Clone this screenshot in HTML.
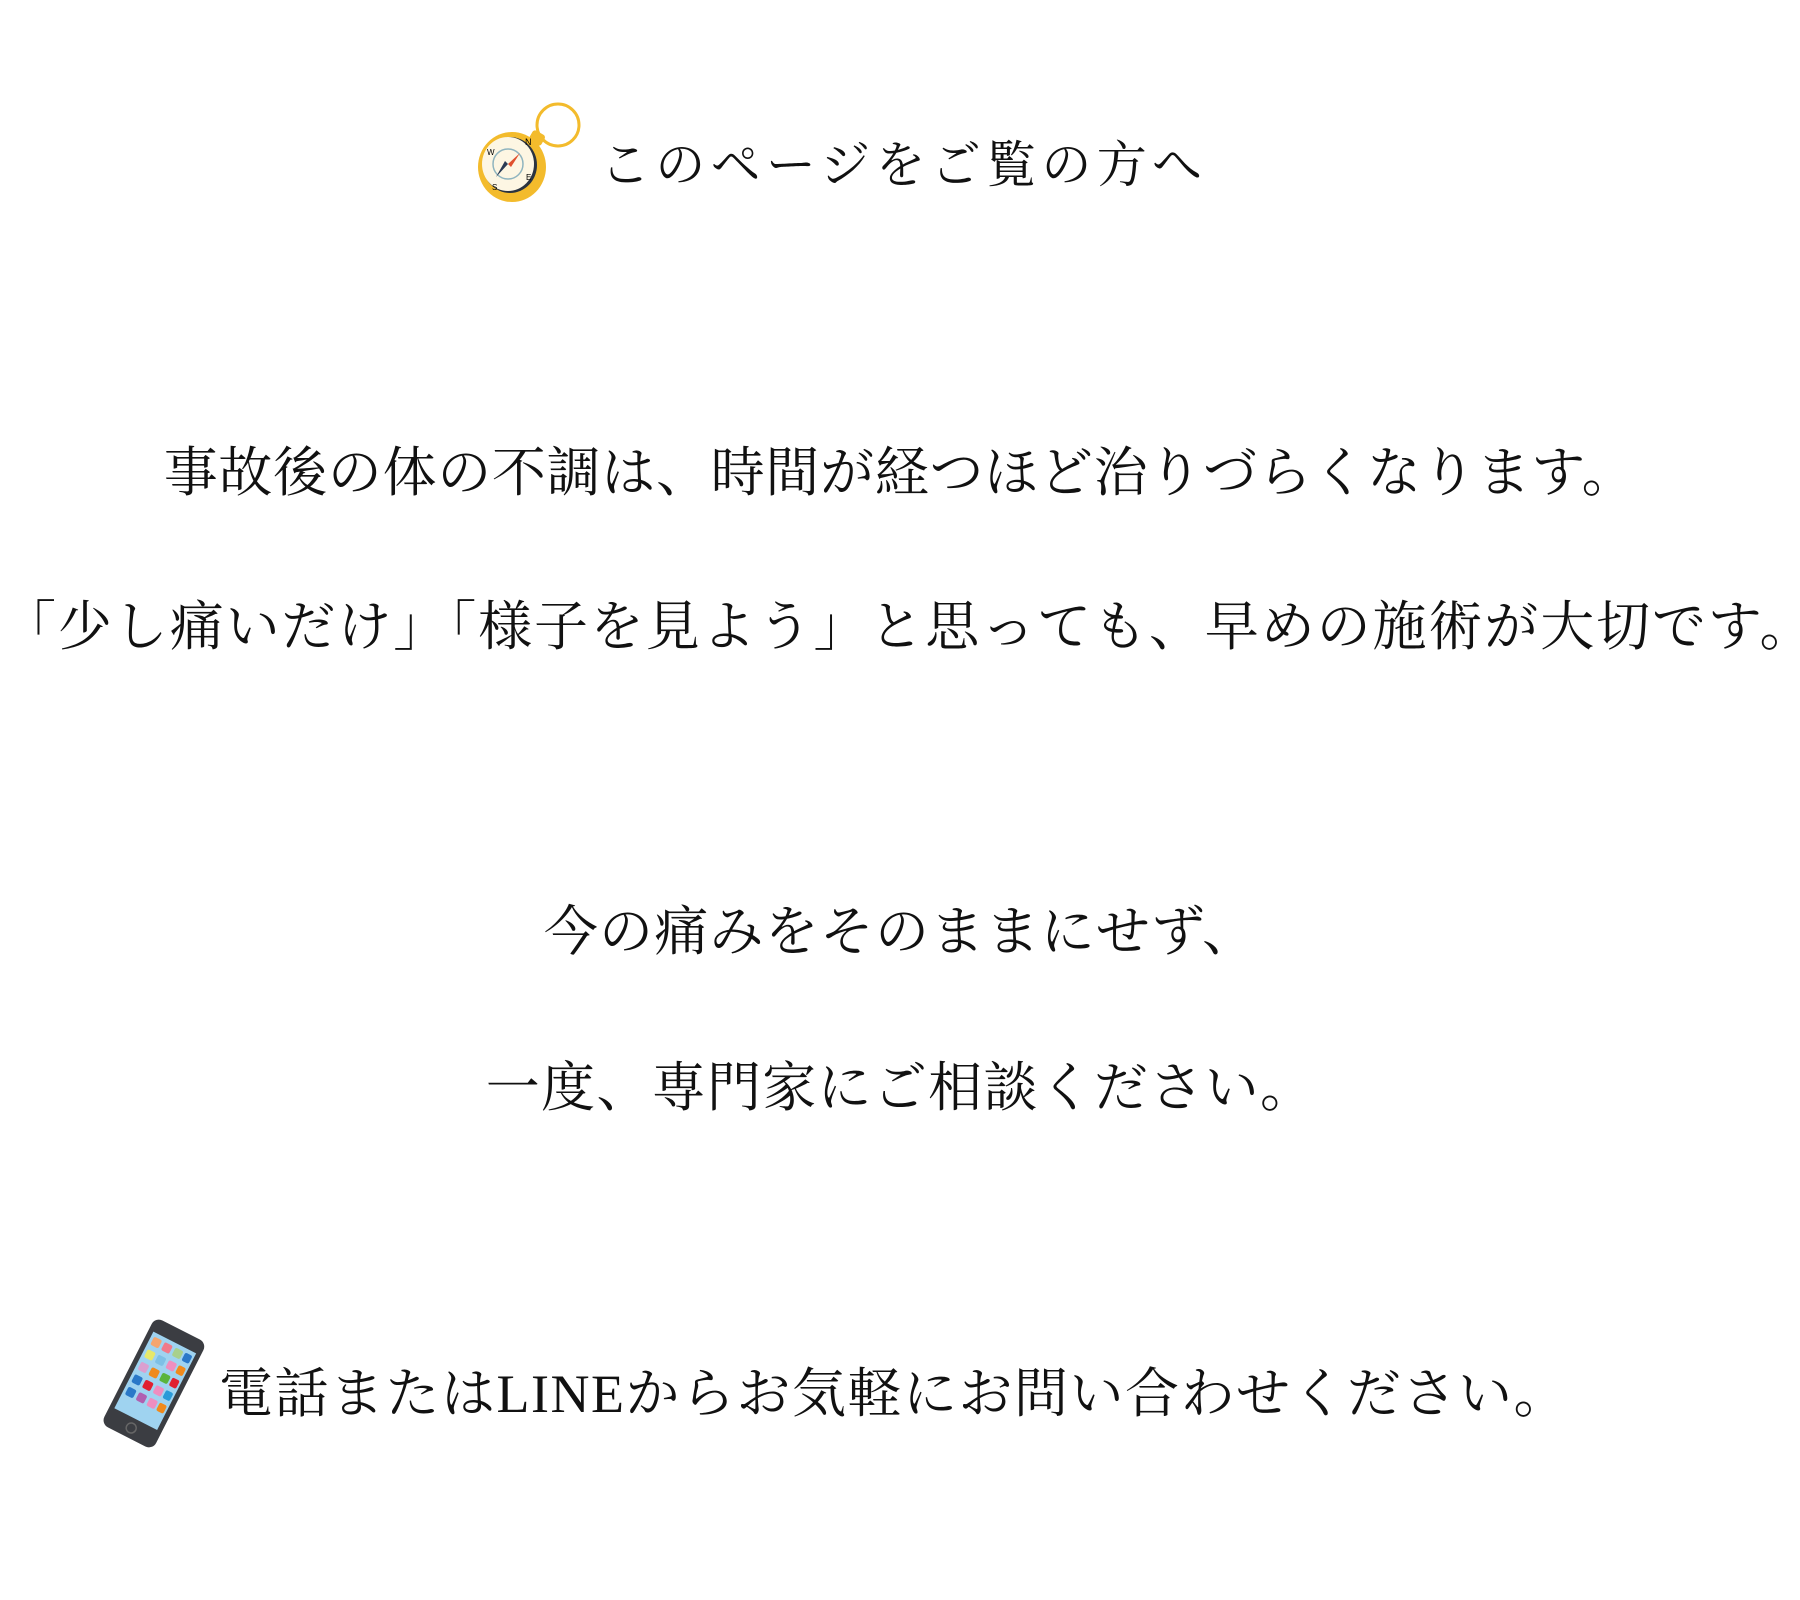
<!DOCTYPE html>
<html><head><meta charset="utf-8"><style>
html,body{margin:0;padding:0;background:#fff;}
body{width:1800px;height:1600px;position:relative;overflow:hidden;font-family:"Liberation Serif","Noto Serif CJK SC",serif;color:#111;}
.l{position:absolute;left:0;width:1800px;text-align:center;white-space:nowrap;font-size:54px;line-height:1;box-sizing:border-box;}
.t{position:absolute;white-space:nowrap;line-height:1;}
</style></head><body>
<svg style="position:absolute;left:470px;top:95px" width="130" height="115" viewBox="0 0 130 115">
<circle cx="88" cy="30" r="21" fill="none" stroke="#f3bb2c" stroke-width="3"/>
<rect x="60" y="37" width="14" height="12" rx="3" fill="#f3bb2c" transform="rotate(30 67 43)"/>
<ellipse cx="42" cy="72" rx="34" ry="35" fill="#f3bb2c"/>
<ellipse cx="40" cy="70" rx="27" ry="28" fill="#2a3340"/>
<ellipse cx="38" cy="69" rx="26" ry="27" fill="#fdf6e3"/>
<circle cx="38" cy="69" r="15" fill="none" stroke="#8fb4bf" stroke-width="1.5"/>
<polygon points="38,69 50,58 41,72" fill="#e0502e"/>
<polygon points="38,69 26,82 35,66" fill="#2a3a55"/>
<text x="55" y="50" font-size="9" font-family="Liberation Sans">N</text>
<text x="17" y="60" font-size="8" font-family="Liberation Sans">W</text>
<text x="22" y="95" font-size="8" font-family="Liberation Sans">S</text>
<text x="56" y="85" font-size="8" font-family="Liberation Sans">E</text>
</svg>
<div class="t" style="left:600px;top:140px;font-size:50px;letter-spacing:5.3px;">このページをご覧の方へ</div>
<div class="l" style="top:446px;letter-spacing:0.7px;">事故後の体の不調は、時間が経つほど治りづらくなります。</div>
<div class="l" style="top:600px;letter-spacing:1.9px;padding-left:2px;">「少し痛いだけ」「様子を見よう」と思っても、早めの施術が大切です。</div>
<div class="l" style="top:905px;letter-spacing:1.2px;padding-left:1px;">今の痛みをそのままにせず、</div>
<div class="l" style="top:1061px;letter-spacing:1.3px;padding-left:1px;">一度、専門家にご相談ください。</div>
<svg style="position:absolute;left:90px;top:1315px" width="130" height="140" viewBox="0 0 130 140">
<g transform="rotate(27 63 68)">
<rect x="35" y="8" width="58" height="120" rx="8" fill="#3b3d42"/>
<rect x="40" y="22" width="48" height="86" fill="#9fd3f0"/>
<g>
<rect x="43" y="26" width="9" height="9" rx="2" fill="#f5a56e"/><rect x="55" y="26" width="9" height="9" rx="2" fill="#f07a8a"/><rect x="67" y="26" width="9" height="9" rx="2" fill="#a8d08d"/><rect x="78" y="26" width="8" height="9" rx="2" fill="#2a78c8"/>
<rect x="43" y="40" width="9" height="9" rx="2" fill="#e6e86a"/><rect x="55" y="40" width="9" height="9" rx="2" fill="#7ec0e6"/><rect x="67" y="40" width="9" height="9" rx="2" fill="#ee8ec0"/><rect x="78" y="40" width="8" height="9" rx="2" fill="#f08a1c"/>
<rect x="43" y="54" width="9" height="9" rx="2" fill="#dba0d0"/><rect x="55" y="54" width="9" height="9" rx="2" fill="#f08a1c"/><rect x="67" y="54" width="9" height="9" rx="2" fill="#5ab43c"/><rect x="78" y="54" width="8" height="9" rx="2" fill="#e02030"/>
<rect x="43" y="68" width="9" height="9" rx="2" fill="#2a78c8"/><rect x="55" y="68" width="9" height="9" rx="2" fill="#e02030"/><rect x="67" y="68" width="9" height="9" rx="2" fill="#ee8ec0"/><rect x="78" y="68" width="8" height="9" rx="2" fill="#2a9ad8"/>
<rect x="43" y="82" width="9" height="9" rx="2" fill="#2a78c8"/><rect x="55" y="82" width="9" height="9" rx="2" fill="#b060b0"/><rect x="67" y="82" width="9" height="9" rx="2" fill="#ee8ec0"/><rect x="78" y="82" width="8" height="9" rx="2" fill="#f08a1c"/>
</g>
<circle cx="64" cy="118" r="5" fill="none" stroke="#666" stroke-width="1.5"/>
</g>
</svg>
<div class="t" style="left:219px;top:1367px;font-size:54px;letter-spacing:1.5px;">電話またはLINEからお気軽にお問い合わせください。</div>
</body></html>
